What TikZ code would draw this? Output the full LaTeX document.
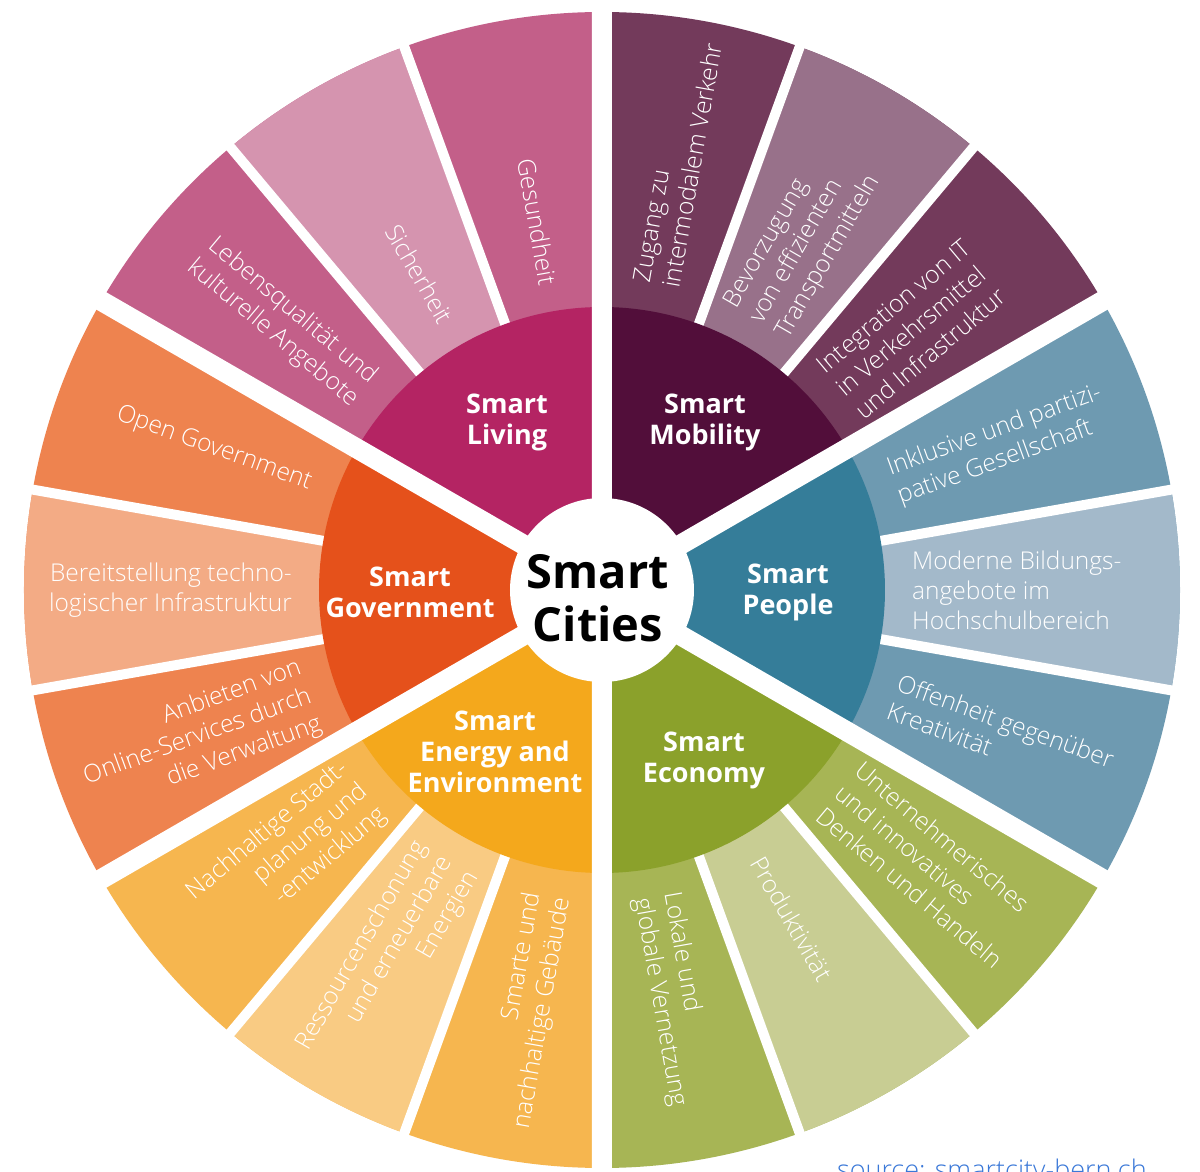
\documentclass[tikz,border=0pt]{standalone}
\usepackage{fontspec}
\setmainfont{Open Sans}
\IfFontExistsTF{Open Sans Light}{\newfontfamily\lightfont{Open Sans Light}}{\newfontfamily\lightfont{Open Sans}}
\definecolor{livA}{HTML}{B42463}
\definecolor{livB}{HTML}{C35F89}
\definecolor{livC}{HTML}{D594AF}
\definecolor{mobA}{HTML}{520E3A}
\definecolor{mobB}{HTML}{733A5B}
\definecolor{mobC}{HTML}{98718A}
\definecolor{peoA}{HTML}{357D99}
\definecolor{peoB}{HTML}{6E9AB1}
\definecolor{peoC}{HTML}{A3B9CA}
\definecolor{ecoA}{HTML}{8BA12B}
\definecolor{ecoB}{HTML}{A7B555}
\definecolor{ecoC}{HTML}{C8CD93}
\definecolor{eneA}{HTML}{F4A81C}
\definecolor{eneB}{HTML}{F6B64F}
\definecolor{eneC}{HTML}{F9CB83}
\definecolor{govA}{HTML}{E5511B}
\definecolor{govB}{HTML}{EE834F}
\definecolor{govC}{HTML}{F3AB85}
\definecolor{linkblue}{HTML}{3A78D8}
\begin{document}
\begin{tikzpicture}[x=1pt,y=1pt,
  sector/.style={text=white,font=\bfseries\fontsize{27}{31}\selectfont,align=center,inner sep=0pt},
  item/.style={text=white,font=\lightfont\fontsize{24.5}{30}\selectfont,inner sep=0pt},
  itemL/.style={item,anchor=east,align=right},
  itemR/.style={item,anchor=west,align=left},
  gap/.style={white,line width=20pt},
  subgap/.style={white,line width=10pt}]
\clip (-602,-582) rectangle (598,590);
\fill [white] (-602,-582) rectangle (598,590);
% outer ring
\fill [livB] (0,0) -- (90:578pt) arc[start angle=90,end angle=150,radius=578pt] -- cycle;
\fill [livC] (0,0) -- (110:578pt) arc[start angle=110,end angle=130,radius=578pt] -- cycle;
\fill [mobB] (0,0) -- (30:578pt) arc[start angle=30,end angle=90,radius=578pt] -- cycle;
\fill [mobC] (0,0) -- (50:578pt) arc[start angle=50,end angle=70,radius=578pt] -- cycle;
\fill [peoB] (0,0) -- (-30:578pt) arc[start angle=-30,end angle=30,radius=578pt] -- cycle;
\fill [peoC] (0,0) -- (-10:578pt) arc[start angle=-10,end angle=10,radius=578pt] -- cycle;
\fill [ecoB] (0,0) -- (-90:578pt) arc[start angle=-90,end angle=-30,radius=578pt] -- cycle;
\fill [ecoC] (0,0) -- (-70:578pt) arc[start angle=-70,end angle=-50,radius=578pt] -- cycle;
\fill [eneB] (0,0) -- (210:578pt) arc[start angle=210,end angle=270,radius=578pt] -- cycle;
\fill [eneC] (0,0) -- (230:578pt) arc[start angle=230,end angle=250,radius=578pt] -- cycle;
\fill [govB] (0,0) -- (150:578pt) arc[start angle=150,end angle=210,radius=578pt] -- cycle;
\fill [govC] (0,0) -- (170:578pt) arc[start angle=170,end angle=190,radius=578pt] -- cycle;
\draw [subgap] (0,0) -- (110:600) (0,0) -- (130:600) (0,0) -- (50:600) (0,0) -- (70:600);
\draw [subgap] (0,0) -- (10:600) (0,0) -- (-10:600) (0,0) -- (-50:600) (0,0) -- (-70:600);
\draw [subgap] (0,0) -- (230:600) (0,0) -- (250:600) (0,0) -- (170:600) (0,0) -- (190:600);
% inner wedges
\fill [livA] (0,0) -- (90:283pt) arc[start angle=90,end angle=150,radius=283pt] -- cycle;
\fill [mobA] (0,0) -- (30:283pt) arc[start angle=30,end angle=90,radius=283pt] -- cycle;
\fill [peoA] (0,0) -- (-30:283pt) arc[start angle=-30,end angle=30,radius=283pt] -- cycle;
\fill [ecoA] (0,0) -- (-90:283pt) arc[start angle=-90,end angle=-30,radius=283pt] -- cycle;
\fill [eneA] (0,0) -- (210:283pt) arc[start angle=210,end angle=270,radius=283pt] -- cycle;
\fill [govA] (0,0) -- (150:283pt) arc[start angle=150,end angle=210,radius=283pt] -- cycle;
\draw [gap] (0,0) -- (90:600) (0,0) -- (30:600) (0,0) -- (-30:600);
\draw [gap] (0,0) -- (-90:600) (0,0) -- (210:600) (0,0) -- (150:600);
\fill [white] (0,0) circle[radius=92pt];
% labels
\node [font=\bfseries\fontsize{47}{53}\selectfont,align=center,inner sep=0pt] (cities) at (-4,-8) {Smart\\Cities};
\node [sector] (living) at (-95,168) {Smart\\Living};
\node [sector] (mobility) at (103,168) {Smart\\Mobility};
\node [sector] (people) at (186,-2) {Smart\\People};
\node [sector] (economy) at (102,-170) {Smart\\Economy};
\node [sector] (energy) at (-107,-162) {Smart\\Energy and\\Environment};
\node [sector] (government) at (-192,-2) {Smart\\Government};
\node [itemL,rotate=-80] (gesundheit) at (100:310) {Gesundheit};
\node [itemL,rotate=-60] (sicherheit) at (120:310) {Sicherheit};
\node [itemL,rotate=-40] (lebensqualitaet) at (140:310) {Lebensqualität und\\kulturelle Angebote};
\node [itemL,rotate=-20] (opengov) at (160:310) {Open Government};
\node [itemL,rotate=0] (bereitstellung) at (180:310) {Bereitstellung techno-\\logischer Infrastruktur};
\node [itemL,rotate=20] (anbieten) at (200:310) {Anbieten von\\Online-Services durch\\die Verwaltung};
\node [itemL,rotate=40] (stadtplanung) at (220:310) {Nachhaltige Stadt-\\planung und\\-entwicklung};
\node [itemL,rotate=60] (ressourcen) at (240:310) {Ressourcenschonung\\und erneuerbare\\Energien};
\node [itemL,rotate=80] (gebaeude) at (260:310) {Smarte und\\nachhaltige Gebäude};
\node [itemR,rotate=80] (zugang) at (80:310) {Zugang zu\\intermodalem Verkehr};
\node [itemR,rotate=60] (bevorzugung) at (60:310) {Bevorzugung\\von effizienten\\Transportmitteln};
\node [itemR,rotate=40] (integration) at (40:310) {Integration von IT\\in Verkehrsmittel\\und Infrastruktur};
\node [itemR,rotate=20] (inklusive) at (20:310) {Inklusive und partizi-\\pative Gesellschaft};
\node [itemR,rotate=0] (bildung) at (0:310) {Moderne Bildungs-\\angebote im\\Hochschulbereich};
\node [itemR,rotate=-20] (offenheit) at (-20:310) {Offenheit gegenüber\\Kreativität};
\node [itemR,rotate=-40] (unternehmer) at (-40:310) {Unternehmerisches\\und innovatives\\Denken und Handeln};
\node [itemR,rotate=-60] (produktivitaet) at (-60:310) {Produktivität};
\node [itemR,rotate=-80] (vernetzung) at (-80:310) {Lokale und\\globale Vernetzung};
\node [anchor=base west,text=linkblue,font=\lightfont\fontsize{27}{30}\selectfont,inner sep=0pt] (source) at (235,-589) {source: smartcity-bern.ch};
\end{tikzpicture}
\end{document}
